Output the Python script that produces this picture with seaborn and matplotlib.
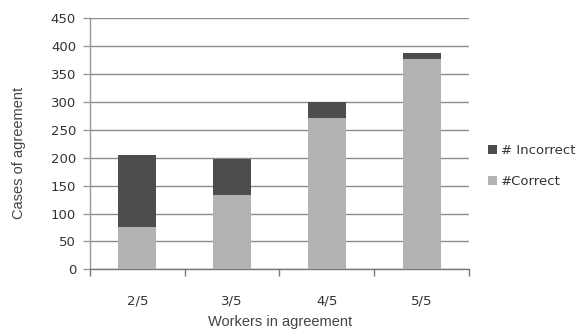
import matplotlib
matplotlib.use("Agg")
import matplotlib.pyplot as plt
import seaborn as sns
import pandas as pd
from matplotlib.patches import Patch

categories = ["2/5", "3/5", "4/5", "5/5"]
correct = [75, 133, 272, 377]
incorrect = [130, 64, 28, 10]
yticks = [0, 50, 100, 150, 200, 250, 300, 350, 400, 450]

df = pd.DataFrame({"workers": categories, "correct": correct, "incorrect": incorrect})
df["total"] = df["correct"] + df["incorrect"]

sns.set_theme(style="white")
plt.rcParams["font.family"] = ["DejaVu Sans"]

dark = "#4d4d4d"
light = "#b2b2b2"

fig = plt.figure(figsize=(5.78, 3.29), dpi=100)
ax = fig.add_axes([0.1557, 0.1815, 0.8114 - 0.1557, 0.9444 - 0.1815])

sns.barplot(data=df, x="workers", y="total", color=dark, width=0.4, saturation=1,
            ax=ax, zorder=3, linewidth=0)
sns.barplot(data=df, x="workers", y="correct", color=light, width=0.4, saturation=1,
            ax=ax, zorder=3, linewidth=0)

ax.set_ylim(0, 450)
ax.set_xlim(-0.5, 3.5)
ax.set_yticks(yticks)
ax.yaxis.grid(True, color="#8c8c8c", linewidth=1, zorder=0)
ax.set_axisbelow(True)
for s in ["top", "right"]:
    ax.spines[s].set_visible(False)
ax.spines["left"].set_color("#999999")
ax.spines["bottom"].set_color("#777777")
ax.spines["left"].set_linewidth(1)
ax.spines["bottom"].set_linewidth(1)

ax.tick_params(axis="y", which="major", left=True, length=5, width=1, color="#999999",
               labelsize=9.5, labelcolor="#333333", pad=5)
ax.set_xticks([0, 1, 2, 3])
ax.set_xticklabels(categories)
ax.tick_params(axis="x", which="major", bottom=False, labelsize=9.5, labelcolor="#333333", pad=12)
ax.set_xticks([-0.5, 0.5, 1.5, 2.5, 3.5], minor=True)
ax.tick_params(axis="x", which="minor", bottom=True, length=5, width=1, color="#777777")

ax.set_xlabel("Workers in agreement", family="Liberation Sans", fontsize=10.5,
              color="#444444")
ax.set_ylabel("Cases of agreement", family="Liberation Sans", fontsize=10.5,
              color="#444444")
ax.xaxis.set_label_coords(0.501, -0.21)
ax.yaxis.set_label_coords(-0.187, 0.463)
ax.xaxis.label.set_verticalalignment("center")
ax.yaxis.label.set_verticalalignment("center")

handles = [Patch(facecolor=dark, edgecolor="none"), Patch(facecolor=light, edgecolor="none")]
fig.legend(handles, ["# Incorrect", "#Correct"], loc="upper left",
           bbox_to_anchor=(0.823, 0.598), frameon=False, fontsize=9.5,
           handlelength=0.7, handleheight=0.7, handletextpad=0.35,
           labelspacing=1.35, labelcolor="#333333")

fig.savefig("out.png", dpi=100)
